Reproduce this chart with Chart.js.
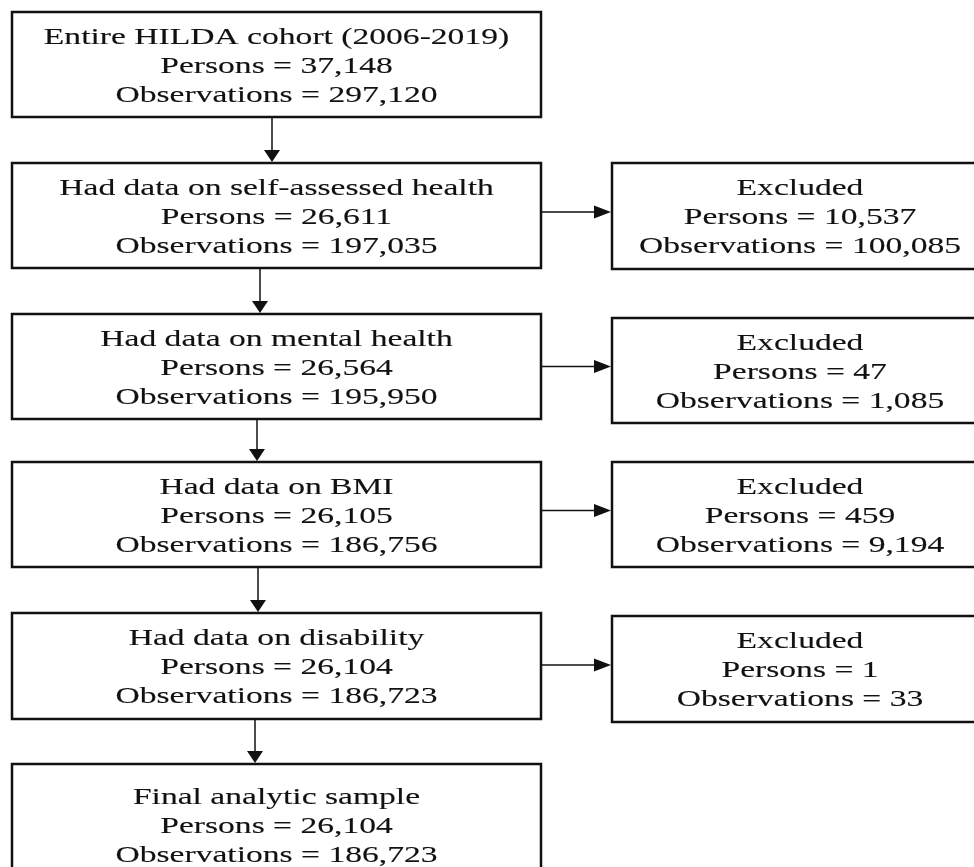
<!DOCTYPE html>
<html>
<head>
<meta charset="utf-8">
<script src="https://cdn.jsdelivr.net/npm/chart.js@4.4.1/dist/chart.umd.min.js"></script>
<style>
  html, body { margin: 0; padding: 0; background: #fff; }
  #wrap { width: 974px; height: 867px; }
</style>
</head>
<body>
<div id="wrap"><canvas id="flowChart" width="974" height="867"></canvas></div>
<script>
// Data
const stageLabels = [
    "Entire HILDA cohort (2006-2019)",
    "Had data on self-assessed health",
    "Had data on mental health",
    "Had data on BMI",
    "Had data on disability",
    "Final analytic sample"
];
const stagePersons = [37148, 26611, 26564, 26105, 26104, 26104];
const stageObservations = [297120, 197035, 195950, 186756, 186723, 186723];
const excludedLabel = "Excluded";
const excludedPersons = [10537, 47, 459, 1];
const excludedObservations = [100085, 1085, 9194, 33];

// Layout (in axis units, 0..974 by 0..867)
const leftBox = { x0: 12, x1: 541 };
const leftTops = [12, 163, 314, 462, 613, 764];
const leftBottoms = [117, 268, 419, 567, 719, 885];
const rightBox = { x0: 612, x1: 988 };
const rightTops = [163, 318, 462, 616];
const rightBottoms = [269, 423, 567, 722];
const downArrowX = [272, 260, 257, 258, 255];

document.addEventListener("DOMContentLoaded", function () {
    const fmt = n => n.toLocaleString("en-US");
    const INK = "#111111";
    const FONT = "23px 'Liberation Serif', 'Times New Roman', serif";
    const STRETCH = 1.46;
    const LINE_GAP = 29;

    function stretchedText(ctx, str, cx, y) {
        ctx.save();
        ctx.translate(cx, y);
        ctx.scale(STRETCH, 1);
        ctx.lineWidth = 0.12;
        ctx.strokeStyle = INK;
        ctx.fillText(str, 0, 0);
        ctx.strokeText(str, 0, 0);
        ctx.restore();
    }

    function drawBox(ctx, lines, px0, px1, py0, py1) {
        ctx.lineWidth = 2.5;
        ctx.strokeStyle = INK;
        ctx.strokeRect(px0, py0, px1 - px0, py1 - py0);
        const cx = (px0 + px1) / 2;
        const cy = (py0 + py1) / 2;
        ctx.fillStyle = INK;
        lines.forEach((t, i) => stretchedText(ctx, t, cx, cy + (i - 1) * LINE_GAP + 8));
    }

    function arrowDown(ctx, x, yFrom, yTo) {
        ctx.lineWidth = 1.5;
        ctx.strokeStyle = INK;
        ctx.beginPath();
        ctx.moveTo(x, yFrom);
        ctx.lineTo(x, yTo - 11);
        ctx.stroke();
        ctx.fillStyle = INK;
        ctx.beginPath();
        ctx.moveTo(x - 8, yTo - 12);
        ctx.lineTo(x + 8, yTo - 12);
        ctx.lineTo(x, yTo);
        ctx.closePath();
        ctx.fill();
    }

    function arrowRight(ctx, y, xFrom, xTo) {
        ctx.lineWidth = 1.5;
        ctx.strokeStyle = INK;
        ctx.beginPath();
        ctx.moveTo(xFrom, y);
        ctx.lineTo(xTo - 15, y);
        ctx.stroke();
        ctx.fillStyle = INK;
        ctx.beginPath();
        ctx.moveTo(xTo - 17, y - 6.5);
        ctx.lineTo(xTo - 17, y + 6.5);
        ctx.lineTo(xTo, y);
        ctx.closePath();
        ctx.fill();
    }

    const flowPlugin = {
        id: "flowDiagram",
        beforeDraw(chart) {
            const ctx = chart.ctx;
            ctx.save();
            ctx.fillStyle = "#ffffff";
            ctx.fillRect(0, 0, chart.width, chart.height);
            ctx.restore();
        },
        afterDraw(chart) {
            const ctx = chart.ctx;
            const sx = chart.scales.x, sy = chart.scales.y;
            const X = v => sx.getPixelForValue(v);
            const Y = v => sy.getPixelForValue(v);
            ctx.save();
            ctx.font = FONT;
            ctx.textAlign = "center";
            ctx.textBaseline = "alphabetic";

            // main column
            stageLabels.forEach((label, i) => {
                drawBox(ctx, [
                    label,
                    "Persons = " + fmt(stagePersons[i]),
                    "Observations = " + fmt(stageObservations[i])
                ], X(leftBox.x0), X(leftBox.x1), Y(leftTops[i]), Y(leftBottoms[i]));
            });

            // excluded column
            excludedPersons.forEach((p, i) => {
                drawBox(ctx, [
                    excludedLabel,
                    "Persons = " + fmt(p),
                    "Observations = " + fmt(excludedObservations[i])
                ], X(rightBox.x0), X(rightBox.x1), Y(rightTops[i]), Y(rightBottoms[i]));
            });

            // arrows between stages
            downArrowX.forEach((ax, i) => {
                arrowDown(ctx, X(ax), Y(leftBottoms[i]) + 1, Y(leftTops[i + 1]) - 1);
            });

            // arrows to excluded boxes
            excludedPersons.forEach((p, i) => {
                const ym = Y((rightTops[i] + rightBottoms[i]) / 2 - 4);
                arrowRight(ctx, ym, X(leftBox.x1) + 1, X(rightBox.x0) - 1);
            });
            ctx.restore();
        }
    };

    const ctx = document.getElementById("flowChart").getContext("2d");
    new Chart(ctx, {
        type: "scatter",
        data: { datasets: [] },
        options: {
            responsive: false,
            animation: false,
            events: [],
            layout: { padding: 0 },
            plugins: {
                legend: { display: false },
                tooltip: { enabled: false }
            },
            scales: {
                x: { type: "linear", min: 0, max: 974, display: false },
                y: { type: "linear", min: 0, max: 867, reverse: true, display: false }
            }
        },
        plugins: [flowPlugin]
    });
});
</script>
</body>
</html>
